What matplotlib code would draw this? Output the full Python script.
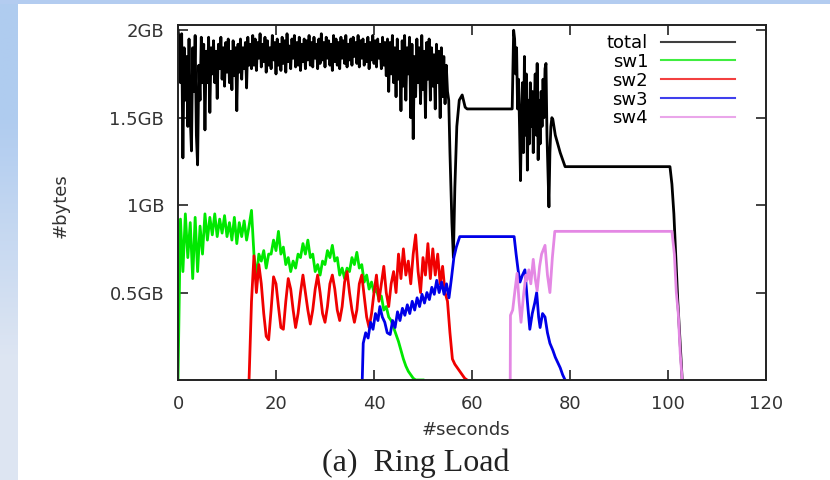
import numpy as np
import matplotlib
matplotlib.use("Agg")
from matplotlib import pyplot as plt

# total bytes, one sample every 0.25 s from t=0 to t=55.25
total_head = [
  2.0, 1.95, 1.7, 1.98, 1.27, 1.9, 1.6, 1.85,
  1.45, 1.95, 1.5, 1.31, 1.9, 1.65, 1.97, 1.4,
  1.23, 1.8, 1.6, 1.96, 1.7, 1.92, 1.43, 1.88,
  1.7, 1.96, 1.53, 1.9, 1.75, 1.94, 1.7, 1.88,
  1.61, 1.92, 1.78, 1.96, 1.72, 1.9, 1.68, 1.93,
  1.76, 1.95, 1.7, 1.88, 1.66, 1.94, 1.74, 1.9,
  1.54, 1.92, 1.76, 1.95, 1.72, 1.9, 1.78, 1.93,
  1.67, 1.96, 1.8, 1.92, 1.78, 1.97, 1.8, 1.95,
  1.77, 1.93, 1.84, 1.98, 1.79, 1.92, 1.82, 1.96,
  1.76, 1.94, 1.8, 1.9, 1.78, 1.97, 1.83, 1.93,
  1.75, 1.95, 1.8, 1.92, 1.77, 1.96, 1.81, 1.94,
  1.76, 1.98, 1.82, 1.91, 1.78, 1.95, 1.84, 1.97,
  1.79, 1.93, 1.8, 1.96, 1.77, 1.92, 1.82, 1.95,
  1.78, 1.94, 1.83, 1.97, 1.8, 1.93, 1.79, 1.96,
  1.84, 1.92, 1.78, 1.95, 1.81, 1.98, 1.83, 1.93,
  1.79, 1.96, 1.84, 1.94, 1.8, 1.92, 1.77, 1.97,
  1.82, 1.95, 1.8, 1.93, 1.78, 1.96, 1.84, 1.94,
  1.81, 1.97, 1.79, 1.92, 1.83, 1.95, 1.8, 1.96,
  1.85, 1.93, 1.81, 1.97, 1.79, 1.94, 1.84, 1.95,
  1.8, 1.92, 1.82, 1.96, 1.78, 1.93, 1.83, 1.97,
  1.81, 1.94, 1.79, 1.95, 1.84, 1.92, 1.78, 1.96,
  1.8, 1.93, 1.74, 1.95, 1.65, 1.93, 1.75, 1.97,
  1.7, 1.9, 1.62, 1.95, 1.72, 1.88, 1.54, 1.94,
  1.68, 1.97, 1.6, 1.9, 1.75, 1.96, 1.5, 1.92,
  1.38, 1.85, 1.62, 1.95, 1.7, 1.9, 1.58, 1.97,
  1.66, 1.88, 1.5, 1.93, 1.72, 1.95, 1.6, 1.9,
  1.68, 1.86, 1.55, 1.92, 1.7, 1.88, 1.5, 1.9,
  1.62, 1.85, 1.58, 1.8, 1.65, 1.6]

# rest of the total, irregular sample times
total_tail_t = [55.5, 55.9, 56.2, 56.5, 56.9, 57.4, 58.0, 58.6, 59.0, 68.2,
                68.5, 68.7, 68.9, 69.1, 69.3, 69.5, 69.7, 69.9, 70.1, 70.3,
                70.5, 70.7, 70.9, 71.1, 71.3, 71.5, 71.7, 71.9, 72.1, 72.3,
                72.5, 72.7, 72.9, 73.1, 73.3, 73.5, 73.7, 73.9, 74.1, 74.3,
                74.5, 74.7, 74.9, 75.1, 75.3, 75.5, 75.7, 75.9, 76.1, 76.3,
                76.5, 77.0, 78.0, 79.0,
                100.4, 100.8, 101.2, 101.6, 102.0, 102.4, 102.9]
total_tail_v = [1.3, 0.9, 0.7, 1.1, 1.45, 1.6, 1.63, 1.56, 1.55, 1.55,
                2.0, 1.95, 1.75, 1.9, 1.55, 1.72, 1.45, 1.14, 1.5, 1.7,
                1.3, 1.85, 1.4, 1.75, 1.2, 1.6, 1.35, 1.7, 1.45, 1.65,
                1.3, 1.55, 1.75, 1.4, 1.81, 1.26, 1.6, 1.35, 1.65, 1.45,
                1.72, 1.5, 1.78, 1.81, 1.4, 1.2, 0.99, 1.3, 1.45, 1.5,
                1.49, 1.4, 1.3, 1.22,
                1.22, 1.12, 0.95, 0.7, 0.45, 0.25, 0.0]

# sw1, every 0.5 s from t=0
sw1 = [
  0.0, 0.92, 0.62, 0.95, 0.7, 0.9, 0.58, 0.93, 0.62, 0.88,
  0.72, 0.95, 0.8, 0.93, 0.83, 0.95, 0.82, 0.92, 0.84, 0.94,
  0.82, 0.9, 0.8, 0.93, 0.78, 0.9, 0.82, 0.91, 0.8, 0.88,
  0.97, 0.72, 0.58, 0.72, 0.68, 0.74, 0.64, 0.72, 0.72, 0.8,
  0.74, 0.85, 0.72, 0.76, 0.66, 0.7, 0.62, 0.68, 0.64, 0.72,
  0.7, 0.78, 0.72, 0.8, 0.7, 0.72, 0.62, 0.66, 0.6, 0.68,
  0.66, 0.74, 0.7, 0.77, 0.68, 0.7, 0.6, 0.64, 0.58, 0.64,
  0.62, 0.7, 0.66, 0.73, 0.64, 0.66, 0.56, 0.6, 0.52, 0.56,
  0.5, 0.52, 0.46, 0.48, 0.4, 0.42, 0.36, 0.34, 0.3, 0.26,
  0.22, 0.17, 0.12, 0.08, 0.05, 0.03, 0.01, 0.0, 0.0, 0.0,
  0.0]

# sw2, every 0.5 s from t=14.5
sw2_start = 14.5
sw2 = [
  0.0, 0.45, 0.71, 0.5, 0.66, 0.55, 0.38, 0.25, 0.23, 0.4,
  0.59, 0.55, 0.42, 0.3, 0.29, 0.45, 0.58, 0.52, 0.4, 0.3,
  0.38, 0.5, 0.6, 0.5, 0.4, 0.32, 0.4, 0.52, 0.6, 0.5,
  0.38, 0.33, 0.42, 0.55, 0.6, 0.52, 0.4, 0.34, 0.42, 0.56,
  0.62, 0.5, 0.4, 0.33, 0.4, 0.55, 0.6, 0.48, 0.36, 0.3,
  0.38, 0.5, 0.6, 0.45, 0.55, 0.65, 0.5, 0.42, 0.55, 0.62,
  0.5, 0.72, 0.58, 0.75, 0.6, 0.68, 0.55, 0.72, 0.83, 0.62,
  0.5, 0.7, 0.6, 0.78, 0.58, 0.75, 0.6, 0.72, 0.55, 0.65,
  0.5, 0.45, 0.27, 0.12, 0.09, 0.07, 0.05, 0.03, 0.01, 0.0]

sw3_t = [37.6, 37.8, 38.3, 38.8, 39.3, 39.8, 40.3, 40.8, 41.2, 41.7,
         42.2, 42.7, 43.3, 43.8, 44.3, 44.8, 45.3, 45.8, 46.3, 46.8,
         47.3, 47.8, 48.3, 48.8, 49.3, 49.8, 50.3, 50.8, 51.3, 51.8,
         52.3, 52.8, 53.3, 53.8, 54.3, 54.8, 55.3, 55.8, 56.3, 56.8,
         57.5, 68.6, 69.0, 69.4, 69.8, 70.3, 70.8, 71.3, 71.8, 72.3,
         72.8, 73.2, 73.6, 73.9, 74.4, 74.9, 75.4, 75.9, 76.5, 77.0,
         77.5, 78.0, 78.5, 79.0]
sw3_v = [0.0, 0.21, 0.27, 0.24, 0.33, 0.29, 0.38, 0.34, 0.42, 0.36,
         0.33, 0.27, 0.26, 0.34, 0.3, 0.39, 0.34, 0.41, 0.37, 0.43,
         0.38, 0.45, 0.4, 0.47, 0.42, 0.49, 0.44, 0.5, 0.46, 0.53,
         0.49, 0.57, 0.5, 0.56, 0.49, 0.55, 0.47, 0.58, 0.7, 0.76,
         0.82, 0.82, 0.72, 0.63, 0.56, 0.6, 0.63, 0.45, 0.29, 0.38,
         0.44, 0.5, 0.36, 0.3, 0.38, 0.36, 0.27, 0.21, 0.17, 0.13,
         0.1, 0.07, 0.03, 0.0]

sw4_t = [67.8, 67.85, 68.3, 68.8, 69.2, 69.6, 70.0, 70.5, 71.0, 71.2,
         71.6, 72.0, 72.5, 72.9, 73.3, 73.8, 74.2, 74.9, 75.4, 75.9,
         76.4, 76.9, 100.8, 101.3, 101.7, 102.1, 102.5, 102.9]
sw4_v = [0.0, 0.37, 0.4, 0.52, 0.61, 0.45, 0.33, 0.48, 0.6, 0.57,
         0.63, 0.55, 0.69, 0.58, 0.51, 0.65, 0.72, 0.77, 0.6, 0.5,
         0.7, 0.85, 0.85, 0.72, 0.5, 0.38, 0.15, 0.0]

x_ticks = [0, 20, 40, 60, 80, 100, 120]
y_ticks = [0.5, 1.0, 1.5, 2.0]
y_labels = ["0.5GB", "1GB", "1.5GB", "2GB"]

plt.rcParams['font.family'] = 'DejaVu Sans'
plt.rcParams['font.size'] = 13

fig = plt.figure(figsize=(8.3, 4.8), dpi=100)
fig.patch.set_facecolor('white')

# light blue slide border (left gradient + top strip)
band = fig.add_axes([0, 0, 17 / 830, 1])
grad = np.array([[[0.69, 0.80, 0.94]], [[0.87, 0.90, 0.95]]])
band.imshow(grad, aspect='auto', interpolation='bilinear', extent=[0, 1, 0, 1])
band.axis('off')
top = fig.add_axes([0, 1 - 4 / 480, 1, 4 / 480])
top.set_facecolor((0.70, 0.80, 0.94))
top.set_xticks([])
top.set_yticks([])
for s in top.spines.values():
  s.set_visible(False)

ax = fig.add_axes([178 / 830, 1 - 380 / 480, 588 / 830, 355 / 480])

t_total = list(np.arange(len(total_head)) * 0.25) + total_tail_t
v_total = total_head + total_tail_v
t_sw1 = np.arange(len(sw1)) * 0.5
t_sw2 = sw2_start + np.arange(len(sw2)) * 0.5

lw = 2.0
ax.plot(t_total, v_total, color='black', lw=lw, label='total')
ax.plot(t_sw1, sw1, color='#00e800', lw=lw, label='sw1')
ax.plot(t_sw2, sw2, color='#f00000', lw=lw, label='sw2')
ax.plot(sw3_t, sw3_v, color='#0000e8', lw=lw, label='sw3')
ax.plot(sw4_t, sw4_v, color='#e488e4', lw=lw, label='sw4')

ax.set_xlim(0, 120)
ax.set_ylim(0, 2.03)
ax.set_xticks(x_ticks)
ax.set_yticks(y_ticks)
ax.set_yticklabels(y_labels)
ax.tick_params(direction='in', length=7, width=1.2, top=True, right=True,
               colors='#222222', labelcolor='#333333')
ax.tick_params(axis='y', pad=10)
ax.tick_params(axis='x', pad=11)
for s in ax.spines.values():
  s.set_linewidth(1.4)
  s.set_color('#222222')

ax.set_xlabel('#seconds', color='#333333')
ax.set_ylabel('#bytes', color='#333333')
ax.xaxis.set_label_coords(0.49, -0.115)
ax.yaxis.set_label_coords(-0.185, 0.49)

leg = ax.legend(loc='upper right', bbox_to_anchor=(0.947, 0.975), frameon=False,
                markerfirst=False, handlelength=4.1, handletextpad=0.7,
                labelspacing=0.05, borderaxespad=0, borderpad=0)
for h in leg.get_lines():
  h.set_linewidth(1.5)
  h.set_alpha(0.75)

fig.text(416 / 830, 1 - 463 / 480, '(a)  Ring Load', ha='center', va='center',
         family='Liberation Serif', size=23, color='#222222')

plt.savefig('out.png', dpi=100)
